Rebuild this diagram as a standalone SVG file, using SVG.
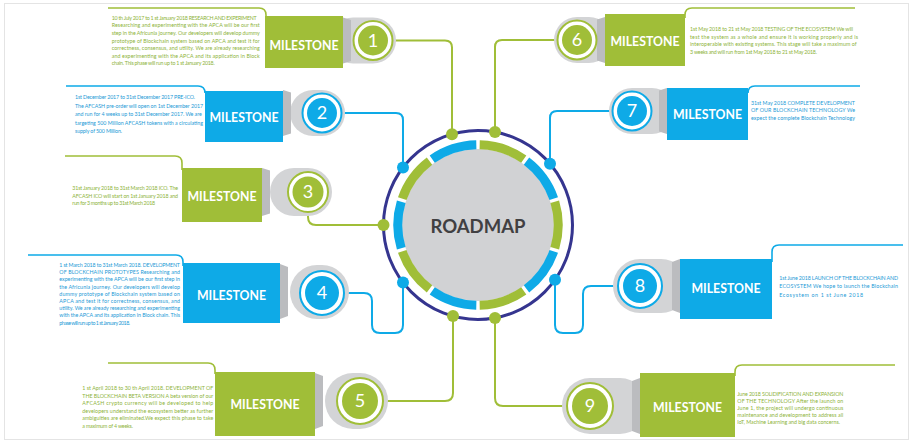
<svg xmlns="http://www.w3.org/2000/svg" width="918" height="446" viewBox="0 0 918 446">
<style>
.g{fill:#a0be38}
.b{fill:#0eaae7}
.tab{fill:#d3d4d6}
.fold{fill:#bbbcbf}
.ms{font-family:Lato,"Open Sans",sans-serif;font-weight:700;font-size:12.3px;fill:#fff;text-anchor:middle}
.num{font-family:Lato,"Open Sans",sans-serif;font-size:18px;fill:#fff;text-anchor:middle}
.tx{font-family:Lato,"Open Sans",sans-serif;font-size:5.3px}
.tg{fill:#8db33a}
.tb{fill:#1d9ad6}
.blg{fill:none;stroke:#a0be38;stroke-width:1.6}
.blb{fill:none;stroke:#0eaae7;stroke-width:1.6}
.rg{fill:#fff;stroke:#a0be38;stroke-width:2}
.rb{fill:#fff;stroke:#0eaae7;stroke-width:2}
.cg{fill:none;stroke:#a0be38;stroke-width:2}
.cb{fill:none;stroke:#0eaae7;stroke-width:2}
.sg{fill:none;stroke:#a0be38;stroke-width:9}
.sb{fill:none;stroke:#0eaae7;stroke-width:9}
</style>
<rect x="0" y="0" width="918" height="446" fill="#fff"/>
<rect x="4.5" y="3.5" width="904" height="436" fill="none" stroke="#e4e4e4" stroke-width="1"/>

<g id="roadmap">
<circle cx="478" cy="225" r="94.5" fill="none" stroke="#35358f" stroke-width="3"/>
<circle cx="478" cy="225" r="76" fill="#d1d2d4"/>
<path class="sg" d="M479.68,144.82 A80.2,80.2 0 0 1 523.77,159.14"/>
<path class="sb" d="M526.49,161.12 A80.2,80.2 0 0 1 553.74,198.62"/>
<path class="sg" d="M554.78,201.82 A80.2,80.2 0 0 1 554.78,248.18"/>
<path class="sb" d="M553.74,251.38 A80.2,80.2 0 0 1 526.49,288.88"/>
<path class="sg" d="M523.77,290.86 A80.2,80.2 0 0 1 479.68,305.18"/>
<path class="sb" d="M476.32,305.18 A80.2,80.2 0 0 1 432.23,290.86"/>
<path class="sg" d="M429.51,288.88 A80.2,80.2 0 0 1 402.26,251.38"/>
<path class="sb" d="M401.22,248.18 A80.2,80.2 0 0 1 401.22,201.82"/>
<path class="sg" d="M402.26,198.62 A80.2,80.2 0 0 1 429.51,161.12"/>
<path class="sb" d="M432.23,159.14 A80.2,80.2 0 0 1 476.32,144.82"/>
<text x="478" y="233.3" font-family="Lato,'Open Sans',sans-serif" font-weight="700" font-size="18.5" fill="#414042" text-anchor="middle">ROADMAP</text>
</g>

<g id="connectors">
<path class="cg" d="M392,40.5 H445 Q452,40.5 452,47.5 V134.2"/>
<path class="cg" d="M495,132 V47 Q495,40 502,40 H558"/>
<path class="cb" d="M341,113 H396 Q403,113 403,120 V167.5"/>
<path class="cb" d="M550,163.8 V118 Q550,111 557,111 H613"/>
<path class="cg" d="M308,214 V217 Q308,225 316,225 H383.5"/>
<path class="cb" d="M343,293 H364 Q372,293 372,301 V325 Q372,333 380,333 H395 Q403,333 403,325 V282.5"/>
<path class="cb" d="M555,279.8 V325 Q555,333 563,333 H575 Q583,333 583,325 V294 Q583,286 591,286 H619"/>
<path class="cg" d="M453,316.1 V393 Q453,401 445,401 H382"/>
<path class="cg" d="M495,318 V398 Q495,406 503,406 H568"/>
<circle class="g" cx="452" cy="134.2" r="6"/>
<circle class="g" cx="495" cy="132" r="6"/>
<circle class="b" cx="403" cy="167.5" r="6"/>
<circle class="b" cx="550" cy="163.8" r="6"/>
<circle class="g" cx="383.5" cy="225" r="6"/>
<circle class="b" cx="403" cy="282.5" r="6"/>
<circle class="b" cx="555" cy="279.8" r="6"/>
<circle class="g" cx="453" cy="316.1" r="6"/>
<circle class="g" cx="495" cy="318" r="6"/>
</g>

<g id="milestone-1">
<path class="blg" d="M108,8 H259 Q266,8 266,15 V18"/>
<rect class="tab" x="330" y="17.5" width="66" height="46" rx="23"/>
<polygon class="fold" points="343,17.5 351,20 351,61 343,63.5"/>
<rect class="g" x="265" y="16" width="78" height="52"/>
<text class="ms" x="304" y="50">MILESTONE</text>
<circle class="rg" cx="373" cy="40.5" r="19.5"/>
<circle class="g" cx="373" cy="40.5" r="15"/>
<text class="num" x="373" y="46.8">1</text>
<text class="tx tg" x="111.7" y="19.5" textLength="145" lengthAdjust="spacing">10 th July 2017 to 1 st January 2018 RESEARCH AND EXPERIMENT</text>
<text class="tx tg" x="111.7" y="27.2" textLength="148" lengthAdjust="spacing">Researching and experimenting with the APCA will be our first</text>
<text class="tx tg" x="111.7" y="34.9" textLength="148" lengthAdjust="spacing">step in the Africunia journey. Our developers will develop dummy</text>
<text class="tx tg" x="111.7" y="42.6" textLength="148" lengthAdjust="spacing">prototype of Blockchain system based on APCA and test it for</text>
<text class="tx tg" x="111.7" y="50.2" textLength="148" lengthAdjust="spacing">correctness, consensus, and utility. We are already researching</text>
<text class="tx tg" x="111.7" y="57.8" textLength="148" lengthAdjust="spacing">and experimenting with the APCA and its application in Block</text>
<text class="tx tg" x="111.7" y="65.4" textLength="103" lengthAdjust="spacing">chain. This phase will run up to 1 st January 2018.</text>
</g>

<g id="milestone-2">
<path class="blb" d="M66,86 H198 Q205,86 205,93"/>
<rect class="tab" x="290" y="90" width="55" height="46" rx="23"/>
<polygon class="fold" points="283,90 291,92.5 291,133.5 283,136"/>
<rect class="b" x="205" y="91" width="78" height="51"/>
<text class="ms" x="244" y="121.5">MILESTONE</text>
<circle class="rb" cx="322" cy="113" r="19.5"/>
<circle class="b" cx="322" cy="113" r="15"/>
<text class="num" x="322" y="119.3">2</text>
<text class="tx tb" x="75" y="99" textLength="120" lengthAdjust="spacing">1st December 2017 to 31st December 2017 PRE-ICO.</text>
<text class="tx tb" x="75" y="107.6" textLength="128" lengthAdjust="spacing">The AFCASH pre-order will open on 1st December 2017</text>
<text class="tx tb" x="75" y="116.2" textLength="126.7" lengthAdjust="spacing">and run for 4 weeks up to 31st December 2017. We are</text>
<text class="tx tb" x="75" y="124.8" textLength="128" lengthAdjust="spacing">targeting 500 Million AFCASH tokens with a circulating</text>
<text class="tx tb" x="75" y="133.4" textLength="47" lengthAdjust="spacing">supply of 500 Million.</text>
</g>

<g id="milestone-3">
<path class="blg" d="M65,156 H175 Q182,156 182,163 V170"/>
<rect class="tab" x="270" y="168" width="62" height="48" rx="24"/>
<polygon class="fold" points="262,168 270,170.5 270,213.5 262,216"/>
<rect class="g" x="182" y="168" width="80" height="54"/>
<text class="ms" x="222" y="201">MILESTONE</text>
<circle class="rg" cx="308" cy="192" r="20"/>
<circle class="g" cx="308" cy="192" r="15.5"/>
<text class="num" x="308" y="198.3">3</text>
<text class="tx tg" x="72.3" y="190.3" textLength="105.7" lengthAdjust="spacing">31st January 2018 to 31st March 2018  ICO. The</text>
<text class="tx tg" x="72.3" y="197.8" textLength="105.7" lengthAdjust="spacing">AFCASH ICO will start on 1st January 2018 and</text>
<text class="tx tg" x="72.3" y="205.3" textLength="82.7" lengthAdjust="spacing">run for 3 months up to 31st March 2018</text>
</g>

<g id="milestone-4">
<path class="blb" d="M28,255 H176 Q183,255 183,262 V266"/>
<rect class="tab" x="290" y="265" width="59" height="54" rx="27"/>
<polygon class="fold" points="280,264 288,267 288,316 280,319"/>
<rect class="b" x="183" y="263" width="97" height="60"/>
<text class="ms" x="231.5" y="299.5">MILESTONE</text>
<circle class="rb" cx="322" cy="293" r="22"/>
<circle class="b" cx="322" cy="293" r="17"/>
<text class="num" x="322" y="299.3">4</text>
<text class="tx tb" x="59.3" y="267" textLength="120.7" lengthAdjust="spacing">1 st March 2018 to 31st March 2018. DEVELOPMENT</text>
<text class="tx tb" x="59.3" y="274.2" textLength="120.7" lengthAdjust="spacing">OF BLOCKCHAIN PROTOTYPES Researching and</text>
<text class="tx tb" x="59.3" y="281.4" textLength="120.7" lengthAdjust="spacing">experimenting with the APCA will be our first step in</text>
<text class="tx tb" x="59.3" y="288.6" textLength="120.7" lengthAdjust="spacing">the Africunia journey. Our developers will develop</text>
<text class="tx tb" x="59.3" y="295.8" textLength="120.7" lengthAdjust="spacing">dummy prototype of Blockchain system based on</text>
<text class="tx tb" x="59.3" y="303" textLength="120.7" lengthAdjust="spacing">APCA and test it for correctness, consensus, and</text>
<text class="tx tb" x="59.3" y="310.2" textLength="120.7" lengthAdjust="spacing">utility. We are already researching and experimenting</text>
<text class="tx tb" x="59.3" y="317.4" textLength="120.7" lengthAdjust="spacing">with the APCA and its application in Block chain. This</text>
<text class="tx tb" x="59.3" y="324.6" textLength="70.7" lengthAdjust="spacing">phase will run up to 1 st January 2018.</text>
</g>

<g id="milestone-5">
<path class="blg" d="M108,363 H208 Q215,363 215,370 V374"/>
<rect class="tab" x="325" y="373" width="63" height="56" rx="28"/>
<polygon class="fold" points="315,373 323,376 323,426 315,429"/>
<rect class="g" x="215" y="372" width="100" height="64"/>
<text class="ms" x="265" y="409">MILESTONE</text>
<circle class="rg" cx="360" cy="401" r="23"/>
<circle class="g" cx="360" cy="401" r="18"/>
<text class="num" x="360" y="407.3">5</text>
<text class="tx tg" x="82.3" y="390.3" textLength="131" lengthAdjust="spacing">1 st April 2018 to 30 th April 2018. DEVELOPMENT OF</text>
<text class="tx tg" x="82.3" y="397.8" textLength="131" lengthAdjust="spacing">THE BLOCKCHAIN BETA VERSION A beta version of our</text>
<text class="tx tg" x="82.3" y="405.3" textLength="131" lengthAdjust="spacing">AFCASH crypto currency will be developed to help</text>
<text class="tx tg" x="82.3" y="412.8" textLength="131" lengthAdjust="spacing">developers understand the ecosystem better as further</text>
<text class="tx tg" x="82.3" y="420.3" textLength="131" lengthAdjust="spacing">ambiguities are eliminated.We expect this phase to take</text>
<text class="tx tg" x="82.3" y="427.8" textLength="50.7" lengthAdjust="spacing">a maximum of 4 weeks.</text>
</g>

<g id="milestone-6">
<path class="blg" d="M685,18 V15 Q685,8 692,8 H855"/>
<rect class="tab" x="554" y="17" width="58" height="46" rx="23"/>
<polygon class="fold" points="605,17 597,19.5 597,60.5 605,63"/>
<rect class="g" x="605" y="14" width="80" height="52"/>
<text class="ms" x="645" y="46">MILESTONE</text>
<circle class="rg" cx="577" cy="40" r="19.5"/>
<circle class="g" cx="577" cy="40" r="15"/>
<text class="num" x="577" y="46.3">6</text>
<text class="tx tg" x="690" y="30.7" textLength="163" lengthAdjust="spacing">1st May 2018 to 21 st May 2018 TESTING OF THE ECOSYSTEM We will</text>
<text class="tx tg" x="690" y="38.5" textLength="168" lengthAdjust="spacing">test the system as a whole and ensure it is working properly and is</text>
<text class="tx tg" x="690" y="46.3" textLength="166.7" lengthAdjust="spacing">interoperable with existing systems. This stage will take a maximum of</text>
<text class="tx tg" x="690" y="54" textLength="127" lengthAdjust="spacing">3 weeks and will run from 1st May 2018 to 21 st May 2018.</text>
</g>

<g id="milestone-7">
<path class="blb" d="M748,93 Q748,86 755,86 H860"/>
<rect class="tab" x="609" y="88" width="66" height="46" rx="23"/>
<polygon class="fold" points="667,88 659,90.5 659,131.5 667,134"/>
<rect class="b" x="667" y="88" width="81" height="52"/>
<text class="ms" x="707.5" y="119">MILESTONE</text>
<circle class="rb" cx="632" cy="111" r="19.5"/>
<circle class="b" cx="632" cy="111" r="15"/>
<text class="num" x="632" y="117.3">7</text>
<text class="tx tb" x="751" y="104.7" textLength="104" lengthAdjust="spacing">31st May 2018 COMPLETE DEVELOPMENT</text>
<text class="tx tb" x="751" y="112.3" textLength="104" lengthAdjust="spacing">OF OUR BLOCKCHAIN TECHNOLOGY We</text>
<text class="tx tb" x="751" y="119.9" textLength="104" lengthAdjust="spacing">expect the complete Blockchain Technology</text>
</g>

<g id="milestone-8">
<path class="blb" d="M772,262 V252 Q772,245 779,245 H903"/>
<rect class="tab" x="613" y="259" width="75" height="54" rx="27"/>
<polygon class="fold" points="680,259 672,262 672,310 680,313"/>
<rect class="b" x="680" y="259" width="92" height="60"/>
<text class="ms" x="726" y="293">MILESTONE</text>
<circle class="rb" cx="640" cy="286" r="22"/>
<circle class="b" cx="640" cy="286" r="17"/>
<text class="num" x="640" y="292.3">8</text>
<text class="tx tb" x="779.3" y="280.3" textLength="118.7" lengthAdjust="spacing">1st June 2018 LAUNCH OF THE BLOCKCHAIN AND</text>
<text class="tx tb" x="779.3" y="288.4" textLength="118.7" lengthAdjust="spacing">ECOSYSTEM We hope to launch the Blockchain</text>
<text class="tx tb" x="779.3" y="296.5" textLength="83.7" lengthAdjust="spacing">Ecosystem on 1 st June 2018</text>
</g>

<g id="milestone-9">
<path class="blg" d="M735,376 V372 Q735,365 742,365 H895"/>
<rect class="tab" x="562" y="378" width="86" height="56" rx="28"/>
<polygon class="fold" points="640,378 632,381 632,431 640,434"/>
<rect class="g" x="640" y="373" width="95" height="64"/>
<text class="ms" x="687.5" y="412">MILESTONE</text>
<circle class="rg" cx="590" cy="406" r="23"/>
<circle class="g" cx="590" cy="406" r="18"/>
<text class="num" x="590" y="412.3">9</text>
<text class="tx tg" x="737.3" y="396" textLength="106" lengthAdjust="spacing">June 2018 SOLIDIFICATION AND EXPANSION</text>
<text class="tx tg" x="737.3" y="402.9" textLength="106" lengthAdjust="spacing">OF THE TECHNOLOGY After the launch on</text>
<text class="tx tg" x="737.3" y="409.8" textLength="106" lengthAdjust="spacing">June 1, the project will undergo continuous</text>
<text class="tx tg" x="737.3" y="416.7" textLength="106" lengthAdjust="spacing">maintenance and development to address all</text>
<text class="tx tg" x="737.3" y="423.6" textLength="102.7" lengthAdjust="spacing">IoT, Machine Learning and big data concerns.</text>
</g>
</svg>
